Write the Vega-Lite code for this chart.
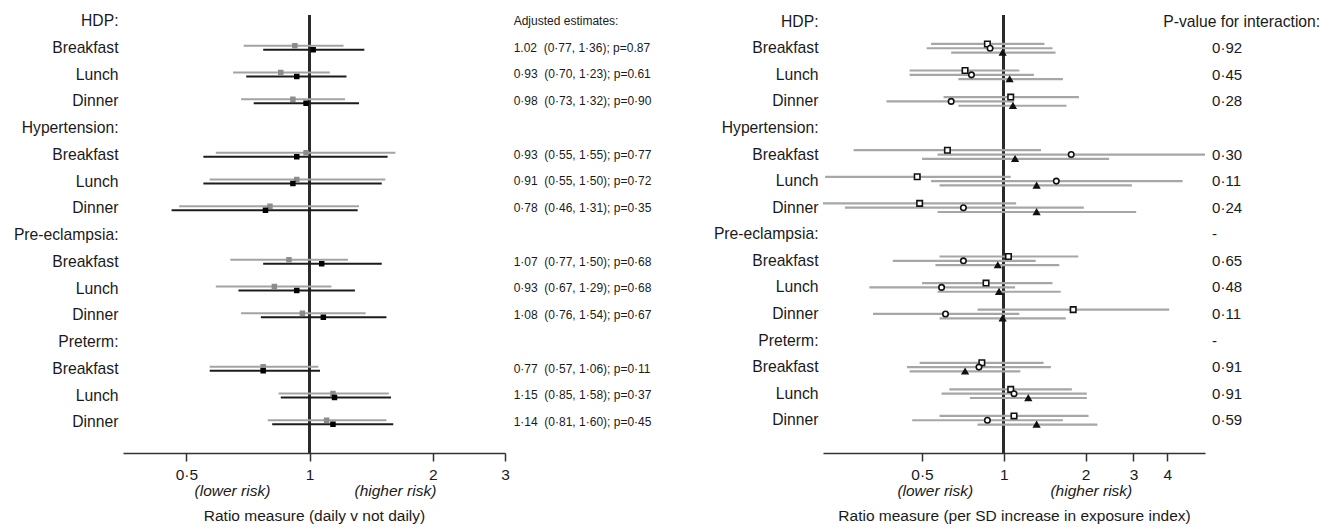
{
  "$schema": "https://vega.github.io/schema/vega-lite/v6.json",
  "padding": {"left": 13, "top": 12, "right": 5, "bottom": 5},
  "background": "white",
  "bounds": "flush",
  "spacing": 318,
  "resolve": {"scale": {"yOffset": "independent", "color": "independent", "fill": "independent", "shape": "independent"}},
  "config": {
    "view": {"stroke": null},
    "font": "Liberation Sans",
    "axis": {"grid": false, "labelFont": "Liberation Sans", "titleFont": "Liberation Sans"},
    "text": {"font": "Liberation Sans", "color": "#1a1a1a"}
  },
  "datasets": {
    "leftCI": [
      {"row": "HDP|Breakfast", "series": "Unadjusted", "est": 0.92, "lo": 0.69, "hi": 1.21},
      {"row": "HDP|Breakfast", "series": "Adjusted", "est": 1.02, "lo": 0.77, "hi": 1.36},
      {"row": "HDP|Lunch", "series": "Unadjusted", "est": 0.85, "lo": 0.65, "hi": 1.12},
      {"row": "HDP|Lunch", "series": "Adjusted", "est": 0.93, "lo": 0.70, "hi": 1.23},
      {"row": "HDP|Dinner", "series": "Unadjusted", "est": 0.91, "lo": 0.68, "hi": 1.22},
      {"row": "HDP|Dinner", "series": "Adjusted", "est": 0.98, "lo": 0.73, "hi": 1.32},
      {"row": "Hypertension|Breakfast", "series": "Unadjusted", "est": 0.98, "lo": 0.59, "hi": 1.62},
      {"row": "Hypertension|Breakfast", "series": "Adjusted", "est": 0.93, "lo": 0.55, "hi": 1.55},
      {"row": "Hypertension|Lunch", "series": "Unadjusted", "est": 0.93, "lo": 0.57, "hi": 1.53},
      {"row": "Hypertension|Lunch", "series": "Adjusted", "est": 0.91, "lo": 0.55, "hi": 1.50},
      {"row": "Hypertension|Dinner", "series": "Unadjusted", "est": 0.80, "lo": 0.48, "hi": 1.32},
      {"row": "Hypertension|Dinner", "series": "Adjusted", "est": 0.78, "lo": 0.46, "hi": 1.31},
      {"row": "Pre-eclampsia|Breakfast", "series": "Unadjusted", "est": 0.89, "lo": 0.64, "hi": 1.24},
      {"row": "Pre-eclampsia|Breakfast", "series": "Adjusted", "est": 1.07, "lo": 0.77, "hi": 1.50},
      {"row": "Pre-eclampsia|Lunch", "series": "Unadjusted", "est": 0.82, "lo": 0.59, "hi": 1.13},
      {"row": "Pre-eclampsia|Lunch", "series": "Adjusted", "est": 0.93, "lo": 0.67, "hi": 1.29},
      {"row": "Pre-eclampsia|Dinner", "series": "Unadjusted", "est": 0.96, "lo": 0.68, "hi": 1.37},
      {"row": "Pre-eclampsia|Dinner", "series": "Adjusted", "est": 1.08, "lo": 0.76, "hi": 1.54},
      {"row": "Preterm|Breakfast", "series": "Unadjusted", "est": 0.77, "lo": 0.57, "hi": 1.05},
      {"row": "Preterm|Breakfast", "series": "Adjusted", "est": 0.77, "lo": 0.57, "hi": 1.06},
      {"row": "Preterm|Lunch", "series": "Unadjusted", "est": 1.14, "lo": 0.84, "hi": 1.56},
      {"row": "Preterm|Lunch", "series": "Adjusted", "est": 1.15, "lo": 0.85, "hi": 1.58},
      {"row": "Preterm|Dinner", "series": "Unadjusted", "est": 1.10, "lo": 0.79, "hi": 1.54},
      {"row": "Preterm|Dinner", "series": "Adjusted", "est": 1.14, "lo": 0.81, "hi": 1.60}
    ],
    "leftText": [
      {"row": "HDP:", "text": "Adjusted estimates:"},
      {"row": "HDP|Breakfast", "text": "1.02\u00a0 (0·77, 1·36); p=0.87"},
      {"row": "HDP|Lunch", "text": "0·93\u00a0 (0·70, 1·23); p=0.61"},
      {"row": "HDP|Dinner", "text": "0·98\u00a0 (0·73, 1·32); p=0·90"},
      {"row": "Hypertension|Breakfast", "text": "0·93\u00a0 (0·55, 1·55); p=0·77"},
      {"row": "Hypertension|Lunch", "text": "0·91\u00a0 (0·55, 1·50); p=0·72"},
      {"row": "Hypertension|Dinner", "text": "0·78\u00a0 (0·46, 1·31); p=0·35"},
      {"row": "Pre-eclampsia|Breakfast", "text": "1·07\u00a0 (0·77, 1·50); p=0·68"},
      {"row": "Pre-eclampsia|Lunch", "text": "0·93\u00a0 (0·67, 1·29); p=0·68"},
      {"row": "Pre-eclampsia|Dinner", "text": "1·08\u00a0 (0·76, 1·54); p=0·67"},
      {"row": "Preterm|Breakfast", "text": "0·77\u00a0 (0·57, 1·06); p=0·11"},
      {"row": "Preterm|Lunch", "text": "1·15\u00a0 (0·85, 1·58); p=0·37"},
      {"row": "Preterm|Dinner", "text": "1·14\u00a0 (0·81, 1·60); p=0·45"}
    ],
    "rightCI": [
      {"row": "HDP|Breakfast", "series": "A", "est": 0.87, "lo": 0.54, "hi": 1.41},
      {"row": "HDP|Breakfast", "series": "B", "est": 0.89, "lo": 0.52, "hi": 1.51},
      {"row": "HDP|Breakfast", "series": "C", "est": 0.99, "lo": 0.64, "hi": 1.55},
      {"row": "HDP|Lunch", "series": "A", "est": 0.72, "lo": 0.45, "hi": 1.14},
      {"row": "HDP|Lunch", "series": "B", "est": 0.76, "lo": 0.45, "hi": 1.29},
      {"row": "HDP|Lunch", "series": "C", "est": 1.05, "lo": 0.68, "hi": 1.65},
      {"row": "HDP|Dinner", "series": "A", "est": 1.06, "lo": 0.60, "hi": 1.89},
      {"row": "HDP|Dinner", "series": "B", "est": 0.64, "lo": 0.37, "hi": 1.09},
      {"row": "HDP|Dinner", "series": "C", "est": 1.08, "lo": 0.68, "hi": 1.70},
      {"row": "Hypertension|Breakfast", "series": "A", "est": 0.62, "lo": 0.28, "hi": 1.37},
      {"row": "Hypertension|Breakfast", "series": "B", "est": 1.77, "lo": 0.57, "hi": 5.5},
      {"row": "Hypertension|Breakfast", "series": "C", "est": 1.10, "lo": 0.50, "hi": 2.44},
      {"row": "Hypertension|Lunch", "series": "A", "est": 0.48, "lo": 0.22, "hi": 1.06},
      {"row": "Hypertension|Lunch", "series": "B", "est": 1.56, "lo": 0.54, "hi": 4.55},
      {"row": "Hypertension|Lunch", "series": "C", "est": 1.32, "lo": 0.58, "hi": 2.96},
      {"row": "Hypertension|Dinner", "series": "A", "est": 0.49, "lo": 0.216, "hi": 1.11},
      {"row": "Hypertension|Dinner", "series": "B", "est": 0.71, "lo": 0.26, "hi": 1.97},
      {"row": "Hypertension|Dinner", "series": "C", "est": 1.32, "lo": 0.57, "hi": 3.07},
      {"row": "Pre-eclampsia|Breakfast", "series": "A", "est": 1.04, "lo": 0.58, "hi": 1.88},
      {"row": "Pre-eclampsia|Breakfast", "series": "B", "est": 0.71, "lo": 0.39, "hi": 1.31},
      {"row": "Pre-eclampsia|Breakfast", "series": "C", "est": 0.95, "lo": 0.56, "hi": 1.60},
      {"row": "Pre-eclampsia|Lunch", "series": "A", "est": 0.86, "lo": 0.50, "hi": 1.51},
      {"row": "Pre-eclampsia|Lunch", "series": "B", "est": 0.59, "lo": 0.32, "hi": 1.10},
      {"row": "Pre-eclampsia|Lunch", "series": "C", "est": 0.96, "lo": 0.57, "hi": 1.62},
      {"row": "Pre-eclampsia|Dinner", "series": "A", "est": 1.80, "lo": 0.80, "hi": 4.06},
      {"row": "Pre-eclampsia|Dinner", "series": "B", "est": 0.61, "lo": 0.33, "hi": 1.14},
      {"row": "Pre-eclampsia|Dinner", "series": "C", "est": 0.99, "lo": 0.58, "hi": 1.69},
      {"row": "Preterm|Breakfast", "series": "A", "est": 0.83, "lo": 0.49, "hi": 1.40},
      {"row": "Preterm|Breakfast", "series": "B", "est": 0.81, "lo": 0.44, "hi": 1.49},
      {"row": "Preterm|Breakfast", "series": "C", "est": 0.72, "lo": 0.45, "hi": 1.15},
      {"row": "Preterm|Lunch", "series": "A", "est": 1.06, "lo": 0.63, "hi": 1.78},
      {"row": "Preterm|Lunch", "series": "B", "est": 1.09, "lo": 0.59, "hi": 2.02},
      {"row": "Preterm|Lunch", "series": "C", "est": 1.23, "lo": 0.75, "hi": 2.02},
      {"row": "Preterm|Dinner", "series": "A", "est": 1.09, "lo": 0.58, "hi": 2.05},
      {"row": "Preterm|Dinner", "series": "B", "est": 0.87, "lo": 0.46, "hi": 1.65},
      {"row": "Preterm|Dinner", "series": "C", "est": 1.32, "lo": 0.80, "hi": 2.21}
    ],
    "rightText": [
      {"row": "HDP|Breakfast", "text": "0·92"},
      {"row": "HDP|Lunch", "text": "0·45"},
      {"row": "HDP|Dinner", "text": "0·28"},
      {"row": "Hypertension|Breakfast", "text": "0·30"},
      {"row": "Hypertension|Lunch", "text": "0·11"},
      {"row": "Hypertension|Dinner", "text": "0·24"},
      {"row": "Pre-eclampsia:", "text": "-"},
      {"row": "Pre-eclampsia|Breakfast", "text": "0·65"},
      {"row": "Pre-eclampsia|Lunch", "text": "0·48"},
      {"row": "Pre-eclampsia|Dinner", "text": "0·11"},
      {"row": "Preterm:", "text": "-"},
      {"row": "Preterm|Breakfast", "text": "0·91"},
      {"row": "Preterm|Lunch", "text": "0·91"},
      {"row": "Preterm|Dinner", "text": "0·59"}
    ],
    "rightHeader": [
      {"row": "HDP:", "text": "P-value for interaction:"}
    ]
  },
  "hconcat": [
    {
      "width": 382,
      "height": 438,
      "resolve": {"axis": {"x": "independent"}},
      "layer": [
        {
          "data": {"name": "leftCI"},
          "mark": {"type": "rule", "color": "#2b2b2b", "strokeWidth": 2},
          "encoding": {
            "x": {
              "datum": 1,
              "type": "quantitative",
              "scale": {"type": "log", "domain": [0.35, 3], "nice": false},
              "axis": {
                "orient": "bottom",
                "values": [0.5, 1, 2, 3],
                "labelExpr": "datum.value == 0.5 ? '0·5' : format(datum.value, 'd')",
                "domainColor": "#333333",
                "domainWidth": 1.5,
                "tickColor": "#333333",
                "tickWidth": 1.5,
                "tickSize": 8,
                "labelPadding": 6,
                "labelFontSize": 15.5,
                "labelColor": "#1a1a1a",
                "labelFlush": false,
                "labelOverlap": false,
                "title": null
              }
            }
          }
        },
        {
          "data": {"name": "leftCI"},
          "mark": {"type": "rule", "strokeWidth": 2.2},
          "encoding": {
            "y": {
              "field": "row",
              "type": "nominal",
              "scale": {
                "type": "band",
                "domain": ["HDP:", "HDP|Breakfast", "HDP|Lunch", "HDP|Dinner", "Hypertension:", "Hypertension|Breakfast", "Hypertension|Lunch", "Hypertension|Dinner", "Pre-eclampsia:", "Pre-eclampsia|Breakfast", "Pre-eclampsia|Lunch", "Pre-eclampsia|Dinner", "Preterm:", "Preterm|Breakfast", "Preterm|Lunch", "Preterm|Dinner"],
                "paddingInner": 0,
                "paddingOuter": 0.187,
                "align": 0.065
              },
              "axis": {
                "title": null,
                "domain": false,
                "ticks": false,
                "labelOffset": -8,
                "labelPadding": 5,
                "labelFontSize": 15.7,
                "labelColor": "#1a1a1a",
                "labelExpr": "indexof(datum.label, '|') >= 0 ? split(datum.label, '|')[1] : datum.label"
              }
            },
            "yOffset": {
              "field": "series",
              "type": "nominal",
              "scale": {"type": "point", "domain": ["Unadjusted", "Adjusted"], "range": [1.35, 9.35]}
            },
            "x": {
              "field": "lo",
              "type": "quantitative",
              "axis": {
                "orient": "bottom",
                "values": [0.646, 1.615],
                "labelExpr": "datum.value < 1 ? '(lower risk)' : '(higher risk)'",
                "domain": false,
                "ticks": false,
                "tickSize": 0,
                "labelPadding": 30,
                "labelFontSize": 15.5,
                "labelFontStyle": "italic",
                "labelColor": "#1a1a1a",
                "labelFlush": false,
                "labelOverlap": false,
                "title": "Ratio measure (daily v not daily)",
                "titleFontSize": 15.5,
                "titleFontWeight": "normal",
                "titleColor": "#1a1a1a",
                "titlePadding": 10
              }
            },
            "x2": {"field": "hi"},
            "color": {
              "field": "series",
              "type": "nominal",
              "scale": {"domain": ["Unadjusted", "Adjusted"], "range": ["#a3a3a3", "#1c1c1c"]},
              "legend": null
            }
          }
        },
        {
          "data": {"name": "leftCI"},
          "mark": {"type": "point", "shape": "square", "filled": true, "size": 30, "opacity": 1},
          "encoding": {
            "y": {"field": "row", "type": "nominal", "scale": {"type": "band"}},
            "yOffset": {
              "field": "series",
              "type": "nominal",
              "scale": {"type": "point", "domain": ["Unadjusted", "Adjusted"], "range": [1.35, 9.35]}
            },
            "x": {"field": "est", "type": "quantitative", "axis": null},
            "fill": {
              "field": "series",
              "type": "nominal",
              "scale": {"domain": ["Unadjusted", "Adjusted"], "range": ["#8c8c8c", "#000000"]},
              "legend": null
            }
          }
        },
        {
          "data": {"name": "leftText"},
          "mark": {"type": "text", "align": "left", "baseline": "middle", "fontSize": 12},
          "encoding": {
            "y": {"field": "row", "type": "nominal", "bandPosition": 0.2, "scale": {"type": "band"}},
            "x": {"datum": 3.15, "type": "quantitative", "axis": null},
            "text": {"field": "text"}
          }
        }
      ]
    },
    {
      "width": 382,
      "height": 438,
      "resolve": {"axis": {"x": "independent"}},
      "layer": [
        {
          "data": {"name": "rightCI"},
          "mark": {"type": "rule", "color": "#2b2b2b", "strokeWidth": 2},
          "encoding": {
            "x": {
              "datum": 1,
              "type": "quantitative",
              "scale": {"type": "log", "domain": [0.216, 5.5], "nice": false},
              "axis": {
                "orient": "bottom",
                "values": [0.5, 1, 2, 3, 4],
                "labelExpr": "datum.value == 0.5 ? '0·5' : format(datum.value, 'd')",
                "domainColor": "#333333",
                "domainWidth": 1.5,
                "tickColor": "#333333",
                "tickWidth": 1.5,
                "tickSize": 8,
                "labelPadding": 6,
                "labelFontSize": 15.5,
                "labelColor": "#1a1a1a",
                "labelFlush": false,
                "labelOverlap": false,
                "title": null
              }
            }
          }
        },
        {
          "data": {"name": "rightCI"},
          "mark": {"type": "rule", "strokeWidth": 2.2, "color": "#a6a6a6"},
          "encoding": {
            "y": {
              "field": "row",
              "type": "nominal",
              "scale": {
                "type": "band",
                "domain": ["HDP:", "HDP|Breakfast", "HDP|Lunch", "HDP|Dinner", "Hypertension:", "Hypertension|Breakfast", "Hypertension|Lunch", "Hypertension|Dinner", "Pre-eclampsia:", "Pre-eclampsia|Breakfast", "Pre-eclampsia|Lunch", "Pre-eclampsia|Dinner", "Preterm:", "Preterm|Breakfast", "Preterm|Lunch", "Preterm|Dinner"],
                "paddingInner": 0,
                "paddingOuter": 0.2424,
                "align": 0.108
              },
              "axis": {
                "title": null,
                "domain": false,
                "ticks": false,
                "labelOffset": -7.97,
                "labelPadding": 5,
                "labelFontSize": 15.7,
                "labelColor": "#1a1a1a",
                "labelExpr": "indexof(datum.label, '|') >= 0 ? split(datum.label, '|')[1] : datum.label"
              }
            },
            "yOffset": {
              "field": "series",
              "type": "nominal",
              "scale": {"type": "point", "domain": ["A", "B", "C"], "range": [-1.19, 11.81]}
            },
            "x": {
              "field": "lo",
              "type": "quantitative",
              "axis": {
                "orient": "bottom",
                "values": [0.557, 2.09],
                "labelExpr": "datum.value < 1 ? '(lower risk)' : '(higher risk)'",
                "domain": false,
                "ticks": false,
                "tickSize": 0,
                "labelPadding": 30,
                "labelFontSize": 15.5,
                "labelFontStyle": "italic",
                "labelColor": "#1a1a1a",
                "labelFlush": false,
                "labelOverlap": false,
                "title": "Ratio measure (per SD increase in exposure index)",
                "titleFontSize": 15.5,
                "titleFontWeight": "normal",
                "titleColor": "#1a1a1a",
                "titlePadding": 10
              }
            },
            "x2": {"field": "hi"}
          }
        },
        {
          "data": {"name": "rightCI"},
          "mark": {"type": "point", "filled": true, "stroke": "#111111", "strokeWidth": 1.6, "size": 30, "opacity": 1},
          "encoding": {
            "y": {"field": "row", "type": "nominal", "scale": {"type": "band"}},
            "yOffset": {
              "field": "series",
              "type": "nominal",
              "scale": {"type": "point", "domain": ["A", "B", "C"], "range": [-1.19, 11.81]}
            },
            "x": {"field": "est", "type": "quantitative", "axis": null},
            "shape": {
              "field": "series",
              "type": "nominal",
              "scale": {"domain": ["A", "B", "C"], "range": ["square", "circle", "triangle-up"]},
              "legend": null
            },
            "fill": {
              "field": "series",
              "type": "nominal",
              "scale": {"domain": ["A", "B", "C"], "range": ["#ffffff", "#ffffff", "#111111"]},
              "legend": null
            }
          }
        },
        {
          "data": {"name": "rightHeader"},
          "mark": {"type": "text", "align": "left", "baseline": "middle", "fontSize": 15.7},
          "encoding": {
            "y": {"field": "row", "type": "nominal", "bandPosition": 0.2, "scale": {"type": "band"}},
            "x": {"datum": 3.86, "type": "quantitative", "axis": null},
            "text": {"field": "text"}
          }
        },
        {
          "data": {"name": "rightText"},
          "mark": {"type": "text", "align": "left", "baseline": "middle", "fontSize": 15},
          "encoding": {
            "y": {"field": "row", "type": "nominal", "bandPosition": 0.2, "scale": {"type": "band"}},
            "x": {"datum": 5.84, "type": "quantitative", "axis": null},
            "text": {"field": "text"}
          }
        }
      ]
    }
  ]
}
